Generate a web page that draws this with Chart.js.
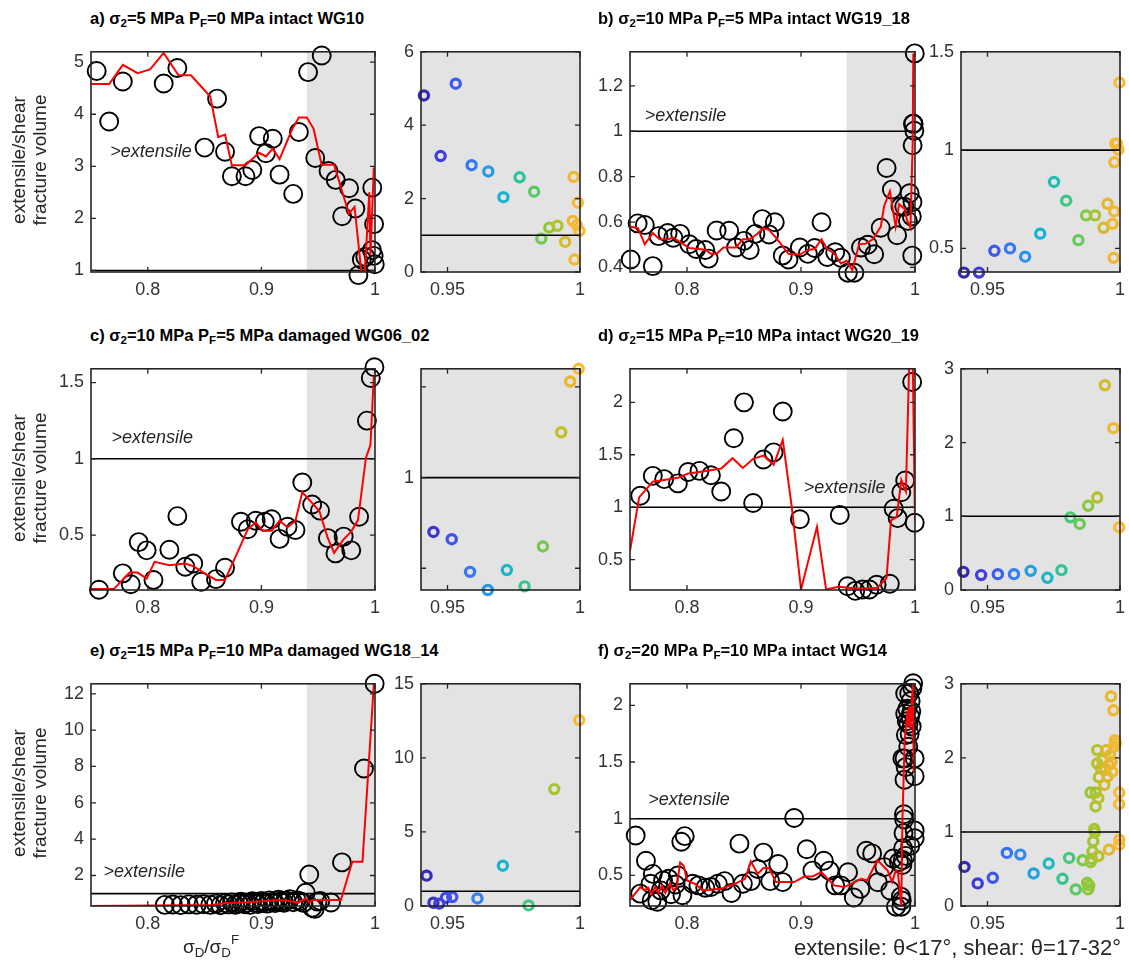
<!DOCTYPE html>
<html>
<head>
<meta charset="utf-8">
<script src="https://cdn.jsdelivr.net/npm/chart.js@4.4.1/dist/chart.umd.min.js"></script>
<style>
  body { margin: 0; background: #fff; width: 1129px; height: 971px; position: relative; overflow: hidden;
         font-family: "Liberation Sans", Arial, sans-serif; color: #262626; }
  canvas { position: absolute; }
  .title { position: absolute; font-weight: bold; font-size: 16.5px; line-height: 22px; white-space: nowrap; color: #000; }
  .title sub { font-size: 0.7em; vertical-align: -0.25em; }
  .ylab { position: absolute; width: 220px; text-align: center; font-size: 19px; line-height: 21px;
          transform: rotate(-90deg); transform-origin: center center; color: #262626; }
  .note { position: absolute; font-size: 18px; line-height: 24px; white-space: nowrap; color: #262626; }
  .note sub { font-size: 0.7em; vertical-align: -0.3em; }
  .note sup { font-size: 0.7em; vertical-align: 0.7em; }
  #xlab { font-size: 19px; }
  #foot { font-size: 22px; }
</style>
</head>
<body>
<script>
// ---- shared axes ----
const xMainRange = [0.75, 1];
const xInsetRange = [0.94, 1];
const shadeFrom = 0.94;
const xTicksMain = [0.8, 0.9, 1];
const xTicksInset = [0.95, 1];

// ---- a) sigma2=5 MPa PF=0 intact WG10 ----
const aX = [0.755, 0.766, 0.778, 0.814, 0.826, 0.861, 0.850, 0.868, 0.874, 0.886, 0.892, 0.898, 0.904, 0.910, 0.916, 0.928, 0.933,
  0.9411, 0.9531, 0.9474, 0.9591, 0.9654, 0.9711, 0.9772, 0.9827, 0.9854, 0.9884, 0.9915, 0.9944, 0.9976, 0.9992, 0.9973, 0.9988, 0.9998, 0.9979];
const aY = [4.83, 3.86, 4.63, 4.59, 4.89, 4.30, 3.36, 3.28, 2.81, 2.81, 2.93, 3.58, 3.25, 3.53, 2.84, 2.47, 3.66,
  4.81, 5.13, 3.16, 2.91, 2.74, 2.04, 2.58, 2.19, 0.91, 1.21, 1.26, 0.82, 2.59, 1.89, 1.39, 1.28, 1.12, 0.34];
const aLineX = [0.75, 0.766, 0.778, 0.791, 0.802, 0.814, 0.827, 0.838, 0.855, 0.862, 0.868, 0.874, 0.886, 0.898, 0.904, 0.910, 0.916, 0.927, 0.933, 0.940, 0.946, 0.953, 0.964, 0.977, 0.982, 0.988, 0.991, 0.995, 0.996, 0.999];
const aLineY = [4.58, 4.58, 4.95, 4.79, 4.86, 5.18, 4.75, 4.75, 4.34, 3.56, 3.61, 3.02, 3.02, 3.26, 3.19, 3.34, 3.14, 3.71, 3.94, 3.94, 3.72, 3.03, 3.03, 2.09, 2.22, 0.97, 0.96, 2.5, 1.3, 2.98];
const aYRange = [0.97, 5.2], aYTicks = [1, 2, 3, 4, 5];
const aInsetYRange = [0, 6], aInsetYTicks = [0, 2, 4, 6];
const aLabelAt = [0.767, 3.27];

// ---- b) sigma2=10 MPa PF=5 intact WG19_18 ----
const bX = [0.7506, 0.7567, 0.763, 0.770, 0.775, 0.783, 0.788, 0.794, 0.802, 0.808, 0.816, 0.819, 0.826, 0.837, 0.843, 0.850, 0.855, 0.860, 0.866, 0.872, 0.877, 0.884, 0.889, 0.899, 0.906, 0.912, 0.918, 0.923, 0.930, 0.935,
  0.9411, 0.9468, 0.9526, 0.9585, 0.9642, 0.9699, 0.9751, 0.9797, 0.9843, 0.9872, 0.9906, 0.9938, 0.9953, 0.9972, 0.9978, 0.9979, 0.9976, 0.9982, 0.9988, 0.9994, 0.9998];
const bY = [0.435, 0.594, 0.587, 0.406, 0.538, 0.552, 0.531, 0.548, 0.502, 0.481, 0.477, 0.439, 0.563, 0.562, 0.488, 0.517, 0.477, 0.548, 0.613, 0.545, 0.599, 0.453, 0.435, 0.488, 0.460, 0.486, 0.599, 0.446, 0.467, 0.443,
  0.377, 0.377, 0.488, 0.500, 0.458, 0.575, 0.838, 0.743, 0.542, 0.668, 0.668, 0.605, 0.727, 0.625, 0.688, 0.938, 0.452, 1.033, 1.033, 1.002, 1.343];
const bLineX = [0.75, 0.757, 0.763, 0.770, 0.776, 0.783, 0.788, 0.802, 0.816, 0.821, 0.826, 0.832, 0.843, 0.849, 0.855, 0.861, 0.867, 0.872, 0.878, 0.889, 0.899, 0.906, 0.912, 0.918, 0.923, 0.929, 0.935, 0.940, 0.945, 0.951, 0.957, 0.963, 0.970, 0.973, 0.978, 0.983, 0.986, 0.991, 0.993, 0.996, 0.998, 0.9985];
const bLineY = [0.580, 0.573, 0.502, 0.552, 0.524, 0.524, 0.531, 0.486, 0.478, 0.460, 0.460, 0.488, 0.488, 0.524, 0.524, 0.545, 0.573, 0.566, 0.531, 0.460, 0.457, 0.477, 0.481, 0.524, 0.481, 0.463, 0.418, 0.429, 0.389, 0.502, 0.505, 0.524, 0.580, 0.672, 0.736, 0.580, 0.679, 0.658, 0.608, 0.576, 0.955, 1.343];
const bYRange = [0.38, 1.35], bYTicks = [0.4, 0.6, 0.8, 1, 1.2];
const bInsetYRange = [0.38, 1.5], bInsetYTicks = [0.5, 1, 1.5];
const bLabelAt = [0.763, 1.068];

// ---- c) sigma2=10 MPa PF=5 damaged WG06_02 ----
const cX = [0.757, 0.778, 0.785, 0.792, 0.799, 0.805, 0.819, 0.826, 0.833, 0.840, 0.847, 0.860, 0.868, 0.882, 0.888, 0.895, 0.903, 0.909, 0.916, 0.923, 0.930, 0.936,
  0.9447, 0.9516, 0.9585, 0.9652, 0.9724, 0.9791, 0.9860, 0.9929, 0.9963, 0.9995];
const cY = [0.142, 0.249, 0.178, 0.454, 0.400, 0.206, 0.404, 0.624, 0.292, 0.314, 0.194, 0.211, 0.286, 0.587, 0.538, 0.594, 0.587, 0.604, 0.475, 0.555, 0.533, 0.845,
  0.70, 0.66, 0.48, 0.38, 0.49, 0.40, 0.62, 1.25, 1.53, 1.60];
const cLineX = [0.75, 0.770, 0.784, 0.791, 0.799, 0.806, 0.819, 0.833, 0.840, 0.849, 0.860, 0.868, 0.882, 0.888, 0.895, 0.901, 0.909, 0.916, 0.923, 0.930, 0.936, 0.944, 0.951, 0.958, 0.964, 0.972, 0.979, 0.985, 0.992, 0.996, 0.999];
const cLineY = [0.146, 0.146, 0.254, 0.254, 0.215, 0.325, 0.303, 0.314, 0.297, 0.254, 0.206, 0.206, 0.437, 0.538, 0.583, 0.529, 0.529, 0.594, 0.551, 0.594, 0.781, 0.716, 0.658, 0.490, 0.383, 0.469, 0.523, 0.598, 1.006, 1.092, 1.544];
const cYRange = [0.14, 1.59], cYTicks = [0.5, 1, 1.5];
const cInsetYRange = [0.38, 1.6], cInsetYTicks = [0.5, 1, 1.5], cInsetYLabels = ['', '1', ''];
const cLabelAt = [0.768, 1.135];

// ---- d) sigma2=15 MPa PF=10 intact WG20_19 ----
const dX = [0.759, 0.770, 0.780, 0.792, 0.801, 0.811, 0.821, 0.830, 0.841, 0.850, 0.858, 0.867, 0.876, 0.884, 0.899, 0.934,
  0.9409, 0.9476, 0.9539, 0.9600, 0.9663, 0.9726, 0.9779, 0.9813, 0.9848, 0.9880, 0.9914, 0.9943, 0.9975, 0.9997];
const dY = [1.109, 1.299, 1.268, 1.227, 1.336, 1.346, 1.305, 1.150, 1.657, 2.000, 1.040, 1.455, 1.523, 1.913, 0.885, 0.925,
  0.246, 0.202, 0.215, 0.215, 0.260, 0.166, 0.269, 0.985, 0.896, 1.142, 1.254, 2.777, 2.194, 0.851];
const dLineX = [0.75, 0.758, 0.770, 0.780, 0.792, 0.801, 0.811, 0.830, 0.840, 0.849, 0.858, 0.867, 0.876, 0.880, 0.884, 0.892, 0.900, 0.914, 0.922, 0.933, 0.941, 0.953, 0.967, 0.975, 0.979, 0.984, 0.988, 0.990, 0.992, 0.995, 0.998, 1.0];
const dLineY = [0.583, 1.093, 1.243, 1.259, 1.280, 1.321, 1.336, 1.368, 1.467, 1.374, 1.461, 1.492, 1.405, 1.523, 1.642, 0.994, 0.215, 0.813, 0.215, 0.240, 0.231, 0.221, 0.231, 0.324, 0.875, 0.907, 1.259, 1.196, 1.150, 2.4, 2.4, 0.869];
const dYRange = [0.21, 2.32], dYTicks = [0.5, 1, 1.5, 2];
const dInsetYRange = [0, 3], dInsetYTicks = [0, 1, 2, 3];
const dLabelAt = [0.9025, 1.187];

// ---- e) sigma2=15 MPa PF=10 damaged WG18_14 ----
const eX = [0.815, 0.822, 0.829, 0.836, 0.843, 0.849, 0.855, 0.860, 0.864, 0.868, 0.871, 0.874, 0.877, 0.880, 0.882, 0.885, 0.887, 0.890, 0.892, 0.895, 0.897, 0.900, 0.902, 0.905, 0.907, 0.910, 0.912, 0.915, 0.917, 0.920, 0.922, 0.925, 0.928, 0.931, 0.934, 0.937, 0.939,
  0.9421, 0.9447, 0.9469, 0.9494, 0.9518, 0.9613, 0.9709, 0.9806, 0.9903, 0.9997];
const eY = [0.38, 0.40, 0.37, 0.41, 0.39, 0.42, 0.38, 0.45, 0.36, 0.48, 0.41, 0.52, 0.39, 0.46, 0.55, 0.42, 0.50, 0.38, 0.58, 0.47, 0.43, 0.60, 0.51, 0.45, 0.63, 0.54, 0.48, 0.66, 0.57, 0.50, 0.61, 0.70, 0.53, 0.64, 0.58, 0.49, 1.05,
  2.05, 0.22, 0.16, 0.56, 0.60, 0.51, 2.72, 0.04, 7.89, 12.55];
const eLineX = [0.75, 0.857, 0.866, 0.887, 0.916, 0.933, 0.939, 0.942, 0.945, 0.970, 0.980, 0.989, 0.999];
const eLineY = [0.32, 0.38, 0.47, 0.52, 0.65, 0.52, 0.74, 0.52, 0.65, 0.65, 2.76, 2.76, 12.54];
const eYRange = [0.32, 12.55], eYTicks = [2, 4, 6, 8, 10, 12];
const eInsetYRange = [0, 15], eInsetYTicks = [0, 5, 10, 15];
const eLabelAt = [0.761, 2.18];

// ---- f) sigma2=20 MPa PF=10 intact WG14 ----
const fX = [0.755, 0.759, 0.764, 0.768, 0.770, 0.769, 0.774, 0.777, 0.779, 0.784, 0.786, 0.790, 0.792, 0.795, 0.798, 0.796, 0.805, 0.810, 0.816, 0.821, 0.827, 0.833, 0.839, 0.846, 0.849, 0.856, 0.862, 0.867, 0.873, 0.880, 0.884, 0.894, 0.905, 0.910, 0.920, 0.925, 0.930, 0.935,
  0.9413, 0.9463, 0.9520, 0.9573, 0.9624, 0.9674, 0.9731, 0.9783, 0.9808, 0.9833, 0.9859, 0.9876, 0.9880, 0.9884, 0.9889, 0.9893, 0.9896, 0.9899, 0.9903, 0.9905, 0.9908, 0.9889,
  0.9908, 0.9918, 0.9914, 0.9914, 0.9920, 0.9928, 0.9933, 0.9941, 0.9943, 0.9949, 0.9953, 0.9958, 0.9962, 0.9968, 0.9971, 0.9977, 0.9981, 0.9966, 0.9975, 0.9958, 0.9918,
  0.9997, 0.9997, 0.9997, 0.9997, 0.9984];
const fY = [0.852, 0.339, 0.629, 0.426, 0.513, 0.281, 0.267, 0.368, 0.455, 0.470, 0.333, 0.420, 0.499, 0.797, 0.846, 0.325, 0.426, 0.412, 0.391, 0.397, 0.426, 0.449, 0.345, 0.780, 0.426, 0.449, 0.557, 0.701, 0.449, 0.600, 0.441, 1.006, 0.730, 0.542, 0.629, 0.542, 0.412, 0.412,
  0.528, 0.305, 0.381, 0.717, 0.694, 0.439, 0.573, 0.367, 0.649, 0.224, 0.618, 0.313, 0.224, 0.278, 0.591, 0.636, 0.739, 0.873, 1.039, 0.994, 1.532, 1.532,
  1.344, 1.455, 1.926, 2.105, 1.738, 1.859, 1.970, 1.635, 1.836, 2.105, 1.747, 1.903, 2.038, 1.948, 1.814, 2.150, 2.239, 2.830, 2.642, 0.761, 0.672,
  1.532, 1.375, 0.896, 0.828, 2.195];
const fLineX = [0.75, 0.754, 0.759, 0.763, 0.766, 0.769, 0.772, 0.775, 0.778, 0.781, 0.785, 0.788, 0.791, 0.794, 0.797, 0.800, 0.807, 0.814, 0.830, 0.842, 0.851, 0.856, 0.862, 0.867, 0.872, 0.878, 0.894, 0.903, 0.910, 0.918, 0.929, 0.938, 0.944, 0.953, 0.958, 0.967, 0.976, 0.980, 0.983, 0.985, 0.988, 0.989, 0.991, 0.993, 0.994, 0.995, 0.996, 0.998, 0.999];
const fLineY = [0.281, 0.333, 0.397, 0.368, 0.391, 0.333, 0.397, 0.345, 0.412, 0.345, 0.432, 0.368, 0.397, 0.614, 0.586, 0.455, 0.426, 0.368, 0.383, 0.426, 0.470, 0.623, 0.513, 0.565, 0.565, 0.441, 0.441, 0.490, 0.490, 0.528, 0.412, 0.397, 0.426, 0.470, 0.455, 0.635, 0.542, 0.441, 0.542, 0.528, 0.229, 1.006, 1.701, 1.904, 1.817, 1.991, 1.788, 2.180, 1.412];
const fYRange = [0.23, 2.19], fYTicks = [0.5, 1, 1.5, 2];
const fInsetYRange = [0, 3], fInsetYTicks = [0, 1, 2, 3];
const fLabelAt = [0.766, 1.165];

const titles = [
  'a) σ<sub>2</sub>=5 MPa P<sub>F</sub>=0 MPa intact WG10',
  'b) σ<sub>2</sub>=10 MPa P<sub>F</sub>=5 MPa intact WG19_18',
  'c) σ<sub>2</sub>=10 MPa P<sub>F</sub>=5 MPa damaged WG06_02',
  'd) σ<sub>2</sub>=15 MPa P<sub>F</sub>=10 MPa intact WG20_19',
  'e) σ<sub>2</sub>=15 MPa P<sub>F</sub>=10 MPa damaged WG18_14',
  'f) σ<sub>2</sub>=20 MPa P<sub>F</sub>=10 MPa intact WG14'
];

// ---- layout (pixel boxes of the plot areas) ----
const colMain = [[91, 375], [630, 915]];
const colInset = [[421, 580], [961, 1120]];
const rowBox = [[48, 272], [365, 590], [680, 906]];
const titleLeft = [90, 598];
const PL = 52, PR = 14, PT = 14, PB = 32;
const FONT = '"Liberation Sans", Arial, sans-serif';

// parula-like colours sampled from the figure
const cmapStops = [
  [0.00, [52, 36, 168]], [0.12, [62, 60, 220]], [0.25, [62, 100, 245]], [0.38, [45, 140, 240]],
  [0.50, [25, 175, 215]], [0.60, [35, 192, 170]], [0.70, [80, 200, 110]], [0.80, [140, 200, 60]],
  [0.88, [195, 190, 40]], [0.94, [235, 183, 45]], [1.00, [250, 186, 55]]
];
function cmap(t) {
  t = Math.max(0, Math.min(1, t));
  for (let i = 1; i < cmapStops.length; i++) {
    const [t1, c1] = cmapStops[i], [t0, c0] = cmapStops[i - 1];
    if (t <= t1) {
      const f = (t - t0) / (t1 - t0);
      return 'rgb(' + c0.map((v, k) => Math.round(v + f * (c1[k] - v))).join(',') + ')';
    }
  }
}

const framePlugin = {
  id: 'frame',
  beforeDatasetsDraw(chart, args, o) {
    const { ctx, chartArea: a, scales: { x } } = chart;
    const x0 = Math.max(a.left, x.getPixelForValue(o.shade));
    ctx.save();
    ctx.fillStyle = '#e3e3e3';
    ctx.fillRect(x0, a.top, a.right - x0, a.bottom - a.top);
    ctx.restore();
  },
  afterDatasetsDraw(chart, args, o) {
    const { ctx, chartArea: a, scales: { x, y } } = chart;
    ctx.save();
    ctx.strokeStyle = '#262626';
    ctx.lineWidth = 1.6;
    ctx.strokeRect(a.left, a.top, a.right - a.left, a.bottom - a.top);
    ctx.lineWidth = 1.3;
    ctx.beginPath();
    const tl = 5;
    x.ticks.forEach(t => {
      const px = x.getPixelForValue(t.value);
      ctx.moveTo(px, a.bottom); ctx.lineTo(px, a.bottom - tl);
      ctx.moveTo(px, a.top); ctx.lineTo(px, a.top + tl);
    });
    y.ticks.forEach(t => {
      const py = y.getPixelForValue(t.value);
      ctx.moveTo(a.left, py); ctx.lineTo(a.left + tl, py);
      ctx.moveTo(a.right, py); ctx.lineTo(a.right - tl, py);
    });
    ctx.stroke();
    if (o.label) {
      ctx.fillStyle = '#262626';
      ctx.font = 'italic 18px ' + FONT;
      ctx.textBaseline = 'middle';
      ctx.textAlign = 'left';
      ctx.fillText('>extensile', x.getPixelForValue(o.label[0]), y.getPixelForValue(o.label[1]));
    }
    ctx.restore();
  }
};

function makeAxis(range, ticks, labels, isX) {
  return {
    type: 'linear', min: range[0], max: range[1],
    grid: { display: false, drawTicks: false },
    border: { display: false },
    afterBuildTicks: s => { s.ticks = ticks.map(v => ({ value: v })); },
    afterFit: s => { if (isX) s.height = PB; else s.width = PL; },
    ticks: {
      font: { family: FONT, size: 18 }, color: '#333', padding: 7,
      maxRotation: 0, autoSkip: false,
      callback: (v, i) => labels ? labels[i] : String(v)
    }
  };
}

function makePlot(box, rows, xr, xt, yr, yt, ylabels, datasets, opts) {
  const cv = document.createElement('canvas');
  const w = box[1] - box[0] + PL + PR, h = rows[1] - rows[0] + PT + PB;
  cv.width = w; cv.height = h;
  cv.style.left = (box[0] - PL) + 'px';
  cv.style.top = (rows[0] - PT) + 'px';
  document.body.appendChild(cv);
  new Chart(cv.getContext('2d'), {
    type: 'scatter',
    data: { datasets: datasets },
    options: {
      responsive: false, animation: false, events: [],
      layout: { padding: { top: PT, right: PR, left: 0, bottom: 0 } },
      plugins: { legend: { display: false }, tooltip: { enabled: false }, frame: opts },
      scales: { x: makeAxis(xr, xt, null, true), y: makeAxis(yr, yt, ylabels, false) }
    },
    plugins: [framePlugin]
  });
}

const panels = [
  { x: aX, y: aY, lx: aLineX, ly: aLineY, yr: aYRange, yt: aYTicks, iyr: aInsetYRange, iyt: aInsetYTicks, lab: aLabelAt },
  { x: bX, y: bY, lx: bLineX, ly: bLineY, yr: bYRange, yt: bYTicks, iyr: bInsetYRange, iyt: bInsetYTicks, lab: bLabelAt },
  { x: cX, y: cY, lx: cLineX, ly: cLineY, yr: cYRange, yt: cYTicks, iyr: cInsetYRange, iyt: cInsetYTicks, iyl: cInsetYLabels, lab: cLabelAt },
  { x: dX, y: dY, lx: dLineX, ly: dLineY, yr: dYRange, yt: dYTicks, iyr: dInsetYRange, iyt: dInsetYTicks, lab: dLabelAt },
  { x: eX, y: eY, lx: eLineX, ly: eLineY, yr: eYRange, yt: eYTicks, iyr: eInsetYRange, iyt: eInsetYTicks, lab: eLabelAt },
  { x: fX, y: fY, lx: fLineX, ly: fLineY, yr: fYRange, yt: fYTicks, iyr: fInsetYRange, iyt: fInsetYTicks, lab: fLabelAt }
];

function inRange(v, r) { const tol = 0.02 * (r[1] - r[0]); return v >= r[0] - tol && v <= r[1] + tol; }
function hLine(xr) { return { type: 'line', data: [{ x: xr[0], y: 1 }, { x: xr[1], y: 1 }], borderColor: '#000', borderWidth: 1.6, pointRadius: 0, order: 1 }; }

panels.forEach((p, i) => {
  const col = i % 2, row = Math.floor(i / 2);
  const pts = p.x.map((v, k) => ({ x: v, y: p.y[k] }));

  // main panel
  makePlot(colMain[col], rowBox[row], xMainRange, xTicksMain, p.yr, p.yt, null, [
    { type: 'line', data: p.lx.map((v, k) => ({ x: v, y: p.ly[k] })), borderColor: '#ff0000', borderWidth: 2, pointRadius: 0, tension: 0, order: 0 },
    hLine(xMainRange),
    { type: 'scatter', data: pts.filter(q => inRange(q.y, p.yr)), pointRadius: 9, borderWidth: 1.9, pointBorderWidth: 1.9,
      pointBorderColor: '#000', pointBackgroundColor: 'rgba(0,0,0,0)', order: 2, clip: false }
  ], { shade: shadeFrom, label: p.lab });

  // inset: points past the shaded boundary, coloured by position
  const ins = pts.filter(q => q.x >= shadeFrom && inRange(q.y, p.iyr));
  makePlot(colInset[col], rowBox[row], xInsetRange, xTicksInset, p.iyr, p.iyt, p.iyl || null, [
    hLine(xInsetRange),
    { type: 'scatter', data: ins, pointRadius: 4.6, borderWidth: 3.2, pointBorderWidth: 3.2,
      pointBorderColor: ins.map(q => cmap((q.x - xInsetRange[0]) / (xInsetRange[1] - xInsetRange[0]))),
      pointBackgroundColor: 'rgba(0,0,0,0)', order: 2, clip: false }
  ], { shade: xInsetRange[0], label: null });

  const t = document.createElement('div');
  t.className = 'title';
  t.innerHTML = titles[i];
  t.style.left = titleLeft[col] + 'px';
  t.style.top = (rowBox[row][0] - 41) + 'px';
  document.body.appendChild(t);

  if (col === 0) {
    const yl = document.createElement('div');
    yl.className = 'ylab';
    yl.innerHTML = 'extensile/shear<br>fracture volume';
    const cy = (rowBox[row][0] + rowBox[row][1]) / 2;
    yl.style.left = (29 - 110) + 'px';
    yl.style.top = (cy - 21) + 'px';
    document.body.appendChild(yl);
  }
});

const xl = document.createElement('div');
xl.className = 'note';
xl.id = 'xlab';
xl.innerHTML = 'σ<sub>D</sub>/σ<sub>D</sub><sup>F</sup>';
xl.style.left = '183px'; xl.style.top = '928px';
document.body.appendChild(xl);

const nt = document.createElement('div');
nt.className = 'note';
nt.id = 'foot';
nt.textContent = 'extensile: θ<17°, shear: θ=17-32°';
nt.style.right = '8px'; nt.style.top = '936px';
document.body.appendChild(nt);
</script>
</body>
</html>
